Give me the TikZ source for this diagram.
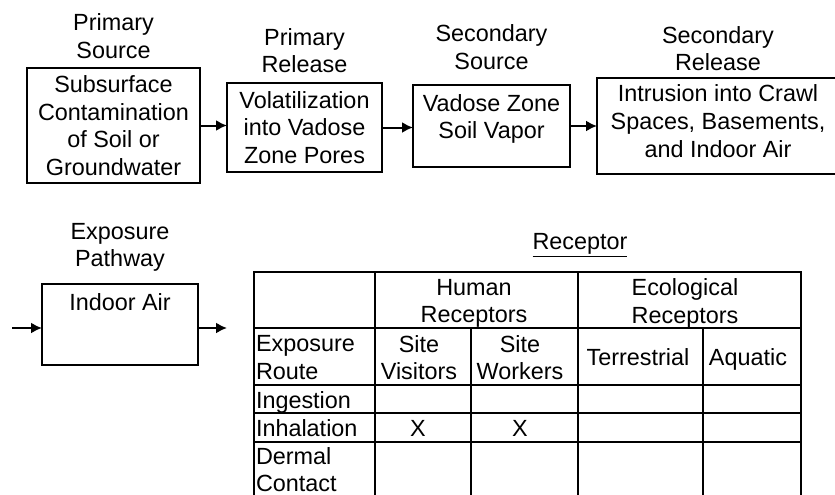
\documentclass[tikz,border=0pt]{standalone}
\usepackage{fontspec}
\setmainfont{Liberation Sans}
\usepackage{tikz}
\usetikzlibrary{arrows.meta}
\usetikzlibrary{calc}
\newcommand{\csmfont}{\fontsize{23.4}{27.7}\selectfont}

\begin{document}
\begin{tikzpicture}[x=1pt,y=-1pt]
\tikzstyle{box}=[draw,line width=1.8pt,outer sep=0pt,inner sep=0pt,align=center,font=\csmfont]
\tikzstyle{txt}=[inner sep=0pt,outer sep=0pt,align=center,font=\csmfont]
\tikzstyle{flow}=[-{Latex[length=11pt,width=11pt]},line width=2pt]
\tikzstyle{grid}=[line width=1.8pt]

% PAGE
\path [use as bounding box] (0,0) rectangle (835,495);
\clip (0,0) rectangle (835,495);

% PRIMARY SOURCE
\node (psrc) [box,minimum width=173pt,minimum height=115pt] at (113.5,125.5) {Subsurface\\Contamination\\of Soil or\\Groundwater};
\node (psrclbl) [txt,yshift=32pt] at (psrc.north) {Primary\\Source};

% PRIMARY RELEASE
\node (prel) [box,minimum width=155pt,minimum height=89pt] at (304.5,127.5) {Volatilization\\into Vadose\\Zone Pores};
\node (prellbl) [txt,yshift=32.5pt] at (prel.north) {Primary\\Release};

% SECONDARY SOURCE
\node (ssrc) [box,minimum width=157pt,minimum height=82pt] at (491.5,126) {};
\node (ssrctxt) [txt,yshift=7pt] at (ssrc.center) {Vadose Zone\\Soil Vapor};
\node (ssrclbl) [txt,yshift=38pt] at (ssrc.north) {Secondary\\Source};

% SECONDARY RELEASE
\node (srel) [box,minimum width=242pt,minimum height=96pt] at (718,126) {};
\node (sreltxt) [txt,yshift=5pt] at (srel.center) {Intrusion into Crawl\\Spaces, Basements,\\and Indoor Air};
\node (srellbl) [txt,yshift=29.5pt] at (srel.north) {Secondary\\Release};

% ARROWS
\draw [flow] (psrc.east) -- (psrc.east -| prel.west);
\draw [flow] (prel.east) -- (prel.east -| ssrc.west);
\draw [flow] (ssrc.east) -- (ssrc.east -| srel.west);

% EXPOSURE PATHWAY
\node (expo) [box,minimum width=156pt,minimum height=81pt] at (120,324.5) {};
\node (expotxt) [txt,yshift=22.5pt] at (expo.center) {Indoor Air};
\node (expolbl) [txt,yshift=36.5pt] at (expo.north) {Exposure\\Pathway};
\coordinate (inair) at (12,328);
\coordinate (outair) at (227,328);
\draw [flow] (inair) -- (inair -| expo.west);
\draw [flow] (expo.east |- outair) -- (outair);

% RECEPTOR TABLE
\node (rcpt) [txt] at (580,245) {\underline{Receptor}};
\draw [grid] (254,505) -- (254,272) -- (801,272) -- (801,505);
\draw [grid] (254,328) -- (801,328);
\draw [grid] (254,385) -- (801,385);
\draw [grid] (254,413) -- (801,413);
\draw [grid,line width=2.4pt] (254,442) -- (801,442);
\draw [grid] (375,272) -- (375,505);
\draw [grid] (578,272) -- (578,505);
\draw [grid] (471,328) -- (471,505);
\draw [grid] (703,328) -- (703,505);

% HEADER CELLS
\node (human) [txt] at (474,303.5) {Human\\Receptors};
\node (eco) [txt] at (685,303.5) {Ecological\\Receptors};
\node (route) [txt,align=left,anchor=west] at (256,357.5) {Exposure\\Route};
\node (visit) [txt] at (419,357.5) {Site\\Visitors};
\node (work) [txt] at (520,357.5) {Site\\Workers};
\node (terr) [txt] at (638,357) {Terrestrial};
\node (aqua) [txt] at (748,359.5) {Aquatic};

% ROUTES
\node (ingest) [txt,anchor=west] at (256,402.5) {Ingestion};
\node (inhal) [txt,anchor=west] at (256,428) {Inhalation};
\node (derm) [txt,align=left,anchor=west] at (256,469.5) {Dermal\\Contact};
\node (xvisit) [txt] at (418,428) {X};
\node (xwork) [txt] at (520,428) {X};

\end{tikzpicture}
\end{document}
